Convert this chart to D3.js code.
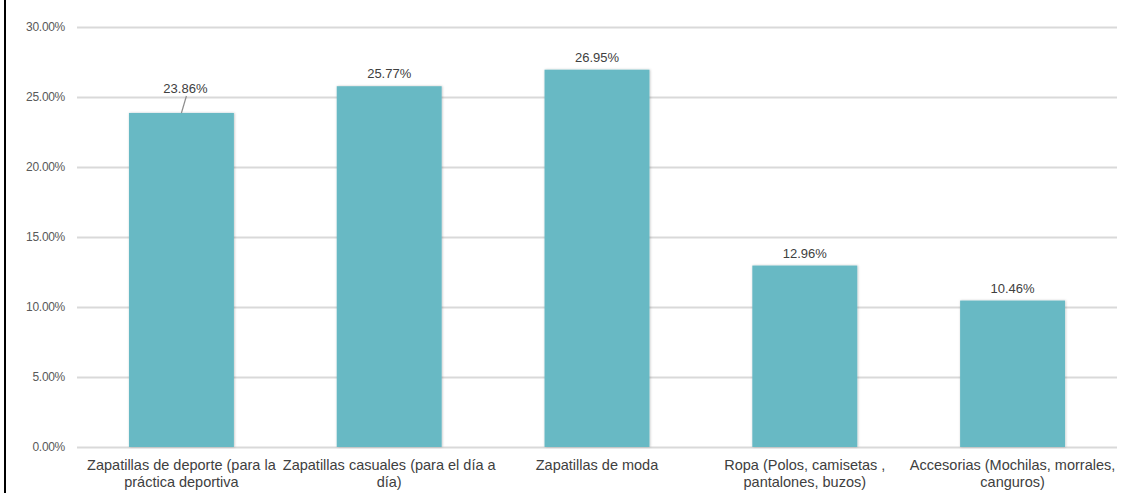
<!DOCTYPE html>
<html>
<head>
<meta charset="utf-8">
<script src="https://cdn.jsdelivr.net/npm/d3@7"></script>
<style>
  html, body { margin: 0; padding: 0; background: #fff; }
  svg { display: block; font-family: "Liberation Sans", Arial, sans-serif; }
</style>
</head>
<body>
<svg id="chart" width="1128" height="493"></svg>
<script>
// Product categories (two-line labels) and share of purchases
const categories = [
  "Zapatillas de deporte (para la|práctica deportiva",
  "Zapatillas casuales (para el día a|día)",
  "Zapatillas de moda",
  "Ropa (Polos, camisetas ,|pantalones, buzos)",
  "Accesorias (Mochilas, morrales,|canguros)"
];
const values = [23.86, 25.77, 26.95, 12.96, 10.46];
const yTicks = [0, 5, 10, 15, 20, 25, 30];

const svg = d3.select("#chart");
const W = 1128, H = 493;
const margin = { left: 77, right: 11, top: 27, bottom: 46 };

const x = d3.scaleBand()
  .domain(categories)
  .range([margin.left, W - margin.right])
  .paddingInner(0.495)
  .paddingOuter(0.25);

const y = d3.scaleLinear()
  .domain([0, 30])
  .range([H - margin.bottom, margin.top]);

// soft shadow on bars
const defs = svg.append("defs");
const f = defs.append("filter").attr("id", "shadow")
  .attr("x", "-5%").attr("y", "-5%").attr("width", "110%").attr("height", "110%");
f.append("feDropShadow").attr("dx", 0.6).attr("dy", 0).attr("stdDeviation", 0.8)
  .attr("flood-color", "#000").attr("flood-opacity", 0.25);

// frame edge on the left
svg.append("line")
  .attr("x1", 5).attr("x2", 5).attr("y1", 0).attr("y2", H)
  .attr("stroke", "#000").attr("stroke-width", 2);

// horizontal gridlines + y tick labels
const yAxis = d3.axisLeft(y)
  .tickValues(yTicks)
  .tickSize(-(W - margin.left - margin.right))
  .tickPadding(12)
  .tickFormat(d => d.toFixed(2) + "%");

const gy = svg.append("g")
  .attr("transform", `translate(${margin.left},0)`)
  .call(yAxis);
gy.select(".domain").remove();
gy.selectAll(".tick line").attr("stroke", "#d9d9d9").attr("stroke-width", 2);
gy.selectAll(".tick text")
  .attr("fill", "#595959")
  .style("font-size", "12px")
  .style("letter-spacing", "-0.3px")
  .attr("x", -12);

// bars
svg.append("g").selectAll("rect")
  .data(values)
  .join("rect")
  .attr("x", (d, i) => x(categories[i]))
  .attr("width", x.bandwidth())
  .attr("y", d => y(d))
  .attr("height", d => y(0) - y(d))
  .attr("fill", "#67b9c4")
  .attr("filter", "url(#shadow)");

// value labels
svg.append("g").selectAll("text")
  .data(values)
  .join("text")
  .attr("x", (d, i) => x(categories[i]) + x.bandwidth() / 2 + (i === 0 ? 4 : 0))
  .attr("y", (d, i) => y(d) - (i === 0 ? 20 : 8))
  .attr("text-anchor", "middle")
  .attr("fill", "#404040")
  .style("font-size", "13px")
  .text(d => d.toFixed(2) + "%");

// leader line for the first label
svg.append("line")
  .attr("x1", x(categories[0]) + x.bandwidth() / 2 + 5)
  .attr("y1", y(values[0]) - 17)
  .attr("x2", x(categories[0]) + x.bandwidth() / 2)
  .attr("y2", y(values[0]))
  .attr("stroke", "#8c8c8c").attr("stroke-width", 1.2);

// category labels
const cat = svg.append("g").selectAll("text")
  .data(categories)
  .join("text")
  .attr("x", d => x(d) + x.bandwidth() / 2)
  .attr("y", H - margin.bottom + 23)
  .attr("text-anchor", "middle")
  .attr("fill", "#404040")
  .style("font-size", "14.5px");
cat.each(function(d) {
  const parts = d.split("|");
  const t = d3.select(this);
  parts.forEach((p, k) => {
    t.append("tspan")
      .attr("x", x(d) + x.bandwidth() / 2)
      .attr("dy", k === 0 ? 0 : 17)
      .text(p);
  });
});
</script>
</body>
</html>
